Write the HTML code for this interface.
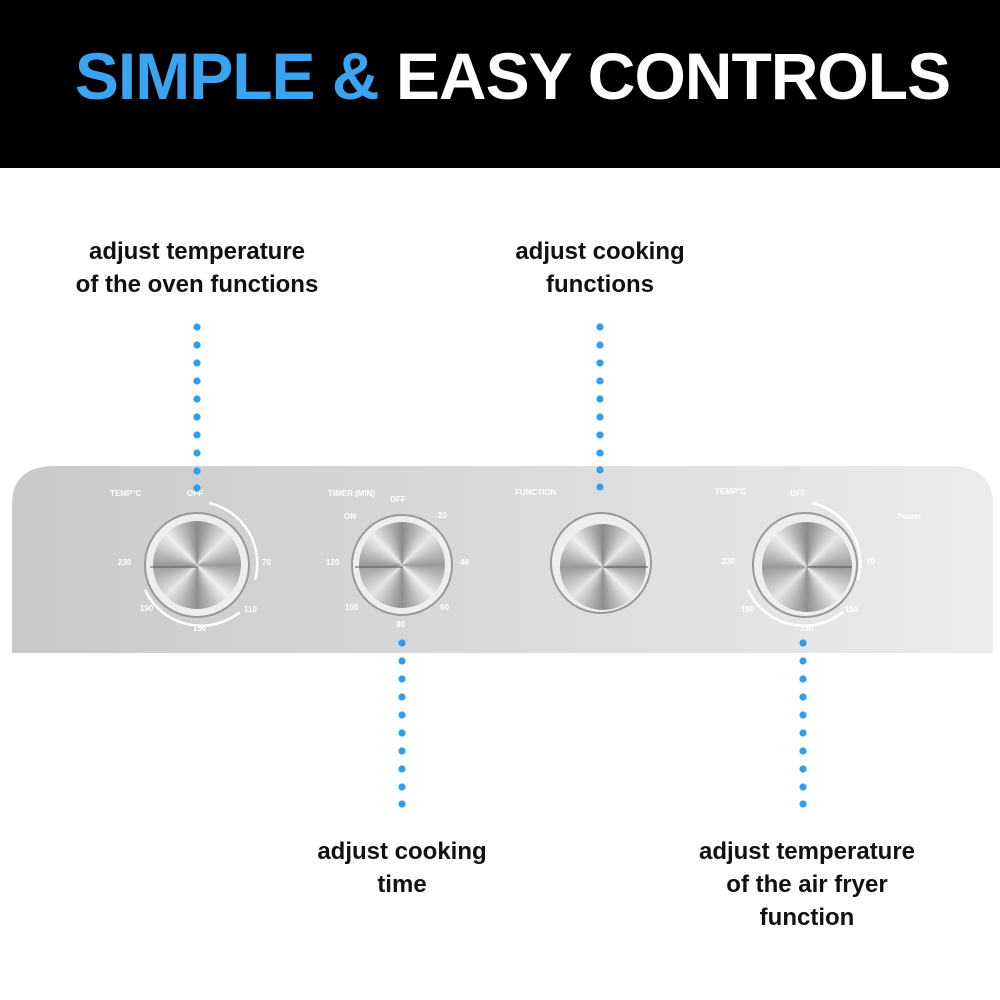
<!DOCTYPE html>
<html><head><style>
body{margin:0;width:1000px;height:1000px;background:#fff;position:relative;overflow:hidden;font-family:"Liberation Sans",sans-serif}
.hdr{position:absolute;left:0;top:0;width:1000px;height:168px;background:#000}
.title{position:absolute;left:0;width:1000px;top:38px;text-align:center;font-weight:bold;font-size:66px;color:#fff;letter-spacing:-1px;padding-left:25px;box-sizing:border-box}
.title span{color:#3aa3f2}
.lbl{position:absolute;font-weight:bold;font-size:24px;color:#111;text-align:center;line-height:33px;width:340px}
.knob{position:absolute;border-radius:50%;background:conic-gradient(#8a8a8a,#e8e8e8,#9a9a9a,#f0f0f0,#8f8f8f,#e5e5e5,#999,#eee,#8a8a8a)}
</style></head><body>
<div class="hdr"></div>
<div class="title"><span>SIMPLE &amp;</span> EASY CONTROLS</div>
<div class="lbl" style="left:27px;top:235px">adjust temperature<br>of the oven functions</div>
<div class="lbl" style="left:430px;top:235px">adjust cooking<br>functions</div>
<div class="lbl" style="left:232px;top:835px">adjust cooking<br>time</div>
<div class="lbl" style="left:637px;top:835px">adjust temperature<br>of the air fryer<br>function</div>
<svg width="1000" height="1000" style="position:absolute;left:0;top:0">
<defs>
<linearGradient id="pg" x1="0" x2="1" y1="0" y2="0"><stop offset="0" stop-color="#c9c9c9"/><stop offset="0.5" stop-color="#dadada"/><stop offset="1" stop-color="#ececec"/></linearGradient>
</defs>
<path d="M12 653 L12 505 Q12 466 55 466 L950 466 Q993 466 993 505 L993 653 Z" fill="url(#pg)"/>
<g fill="#fff" font-size="8" font-weight="bold">
<text x="110" y="496">TEMP°C</text><text x="187" y="496">OFF</text>
<text x="118" y="565">230</text><text x="262" y="565">70</text><text x="140" y="611">190</text><text x="244" y="612">110</text><text x="193" y="631">150</text>
<text x="328" y="496">TIMER (MIN)</text><text x="390" y="502">OFF</text><text x="344" y="519">ON</text><text x="438" y="518">20</text>
<text x="326" y="565">120</text><text x="460" y="565">40</text><text x="345" y="610">100</text><text x="440" y="610">60</text><text x="396" y="627">80</text>
<text x="515" y="495">FUNCTION</text><text x="715" y="494">TEMP°C</text><text x="790" y="496">OFF</text>
<text x="722" y="564">230</text><text x="866" y="564">70</text><text x="741" y="612">190</text><text x="845" y="612">110</text><text x="800" y="631">150</text>
<text x="897" y="519">Power</text>
</g>
<g fill="none" stroke="#fff" stroke-width="2.5">
<path d="M209 503 A62 62 0 0 1 255 580"/><path d="M145 590 A62 62 0 0 0 240 612"/>
<path d="M812 503 A62 62 0 0 1 858 580"/><path d="M748 590 A62 62 0 0 0 843 612"/>
</g>
<g>
<circle cx="197" cy="565" r="52" fill="#eee" stroke="#999" stroke-width="2"/>
<circle cx="402" cy="565" r="50" fill="#eee" stroke="#999" stroke-width="2"/>
<circle cx="601" cy="563" r="50" fill="#eee" stroke="#999" stroke-width="2"/>
<circle cx="805" cy="565" r="52" fill="#eee" stroke="#999" stroke-width="2"/>
</g>
</svg>
<div class="knob" style="left:153px;top:521px;width:88px;height:88px"></div>
<div class="knob" style="left:359px;top:522px;width:86px;height:86px"></div>
<div class="knob" style="left:560px;top:524px;width:86px;height:86px"></div>
<div class="knob" style="left:762px;top:522px;width:90px;height:90px"></div>
<svg width="1000" height="1000" style="position:absolute;left:0;top:0">
<g stroke="#555" stroke-width="1"><line x1="150" y1="567" x2="197" y2="567"/><line x1="355" y1="567" x2="402" y2="567"/><line x1="603" y1="567" x2="648" y2="567"/><line x1="807" y1="567" x2="852" y2="567"/></g>
<g fill="#2e9ff0">
<circle cx="197" cy="327" r="3.6"/><circle cx="197" cy="345" r="3.6"/><circle cx="197" cy="363" r="3.6"/><circle cx="197" cy="381" r="3.6"/><circle cx="197" cy="399" r="3.6"/><circle cx="197" cy="417" r="3.6"/><circle cx="197" cy="435" r="3.6"/><circle cx="197" cy="453" r="3.6"/><circle cx="197" cy="471" r="3.6"/><circle cx="197" cy="488" r="3.6"/>
<circle cx="600" cy="327" r="3.6"/><circle cx="600" cy="345" r="3.6"/><circle cx="600" cy="363" r="3.6"/><circle cx="600" cy="381" r="3.6"/><circle cx="600" cy="399" r="3.6"/><circle cx="600" cy="417" r="3.6"/><circle cx="600" cy="435" r="3.6"/><circle cx="600" cy="453" r="3.6"/><circle cx="600" cy="470" r="3.6"/><circle cx="600" cy="487" r="3.6"/>
<circle cx="402" cy="643" r="3.6"/><circle cx="402" cy="661" r="3.6"/><circle cx="402" cy="679" r="3.6"/><circle cx="402" cy="697" r="3.6"/><circle cx="402" cy="715" r="3.6"/><circle cx="402" cy="733" r="3.6"/><circle cx="402" cy="751" r="3.6"/><circle cx="402" cy="769" r="3.6"/><circle cx="402" cy="787" r="3.6"/><circle cx="402" cy="804" r="3.6"/>
<circle cx="803" cy="643" r="3.6"/><circle cx="803" cy="661" r="3.6"/><circle cx="803" cy="679" r="3.6"/><circle cx="803" cy="697" r="3.6"/><circle cx="803" cy="715" r="3.6"/><circle cx="803" cy="733" r="3.6"/><circle cx="803" cy="751" r="3.6"/><circle cx="803" cy="769" r="3.6"/><circle cx="803" cy="787" r="3.6"/><circle cx="803" cy="804" r="3.6"/>
</g>
</svg>
</body></html>
